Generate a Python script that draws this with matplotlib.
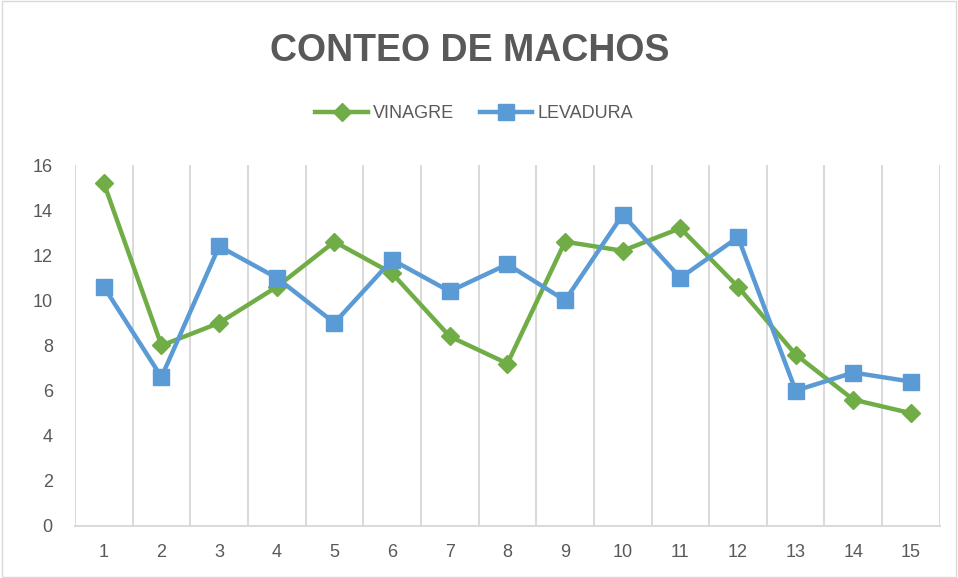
import matplotlib

matplotlib.use("Agg")
import matplotlib.pyplot as plt
from matplotlib.patches import Rectangle

plt.rcParams["font.family"] = ["Liberation Sans", "DejaVu Sans"]

# data
dias = list(range(1, 16))
vinagre = [15.2, 8.0, 9.0, 10.6, 12.6, 11.2, 8.4, 7.2, 12.6, 12.2, 13.2, 10.6, 7.6, 5.6, 5.0]
levadura = [10.6, 6.6, 12.4, 11.0, 9.0, 11.8, 10.4, 11.6, 10.0, 13.8, 11.0, 12.8, 6.0, 6.8, 6.4]
y_ticks = [0, 2, 4, 6, 8, 10, 12, 14, 16]

GREEN = "#70AD47"
BLUE = "#5B9BD5"
TEXT = "#595959"
GRID = "#D9D9D9"

fig = plt.figure(figsize=(9.58, 5.78), dpi=100)
ax = fig.add_axes([0.0783, 0.09, 0.9027, 0.6245])

ax.plot(dias, vinagre, color=GREEN, lw=3.2, marker="D", ms=9,
        label="VINAGRE", zorder=3)
ax.plot(dias, levadura, color=BLUE, lw=3.2, marker="s", ms=11,
        label="LEVADURA", zorder=4)

ax.set_xlim(0.5, 15.5)
ax.set_ylim(0, 16)
ax.set_yticks(y_ticks)
ax.set_xticks(dias)
ax.set_xticks([d + 0.5 for d in [0] + dias], minor=True)
ax.grid(True, axis="x", which="minor", color=GRID, lw=1.4)
ax.tick_params(axis="both", which="both", length=0, colors=TEXT, labelsize=13)
ax.tick_params(axis="y", pad=16)
ax.tick_params(axis="x", pad=13)
for side in ("top", "right", "left"):
    ax.spines[side].set_visible(False)
ax.spines["bottom"].set_color(GRID)
ax.spines["bottom"].set_linewidth(1.4)

fig.text(0.49, 0.912, "CONTEO DE MACHOS", ha="center", va="center",
         fontsize=27, fontweight="bold", color=TEXT)
fig.legend(loc="center", bbox_to_anchor=(0.495, 0.803), ncol=2, frameon=False,
           fontsize=13, labelcolor=TEXT, handlelength=2.9, handletextpad=0.3,
           columnspacing=1.4)

fig.patches.append(Rectangle((0.002, 0.002), 0.996, 0.996, transform=fig.transFigure,
                             fill=False, edgecolor=GRID, lw=1))

fig.savefig("out.png", dpi=100)
